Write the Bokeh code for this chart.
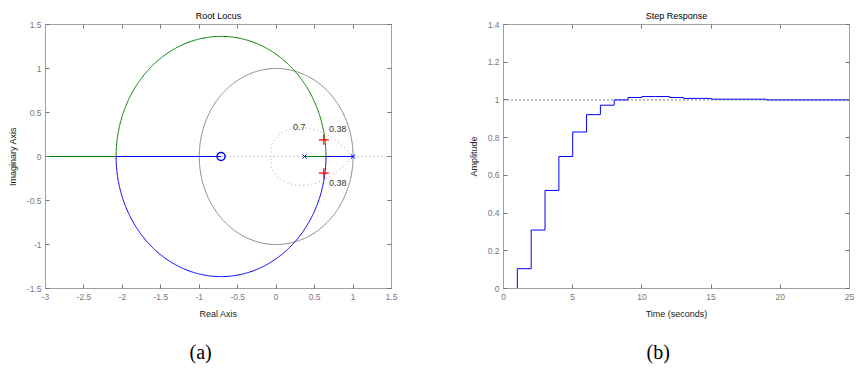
import numpy as np
from bokeh.plotting import figure
from bokeh.layouts import row
from bokeh.models import Range1d, LinearAxis, FixedTicker, Title, Span
from bokeh.core.properties import value
from bokeh.embed import file_html
from bokeh.resources import INLINE

# ---------------- data ----------------
# Root locus (discrete-time system)
ol_poles = [0.368, 1.0]
ol_zeros = [-0.717]
sel_re = [0.62, 0.62]
sel_im = [0.19, -0.19]
sel_labels = ["0.38", "0.38"]
sel_label_x = [0.80, 0.80]
sel_label_y = [0.31, -0.30]
zeta_value = 0.7
zeta_label = ["0.7"]
zeta_label_x = [0.30]
zeta_label_y = [0.335]
rl_xticks = [-3, -2.5, -2, -1.5, -1, -0.5, 0, 0.5, 1, 1.5]
rl_xlabels = ["-3", "-2.5", "-2", "-1.5", "-1", "-0.5", "0", "0.5", "1", "1.5"]
rl_yticks = [-1.5, -1, -0.5, 0, 0.5, 1, 1.5]
rl_ylabels = ["-1.5", "-1", "-0.5", "0", "0.5", "1", "1.5"]

# Step response
step_time = list(range(26))
step_amp = [0.0, 0.105, 0.31, 0.52, 0.70, 0.83, 0.922, 0.972, 1.0, 1.013,
            1.018, 1.018, 1.013, 1.008, 1.008, 1.004, 1.004, 1.004, 1.004, 1.0,
            1.0, 1.0, 1.0, 1.0, 1.0, 1.0]
steady_state = 1.0
st_xticks = [0, 5, 10, 15, 20, 25]
st_xlabels = ["0", "5", "10", "15", "20", "25"]
st_yticks = [0, 0.2, 0.4, 0.6, 0.8, 1, 1.2, 1.4]
st_ylabels = ["0", "0.2", "0.4", "0.6", "0.8", "1", "1.2", "1.4"]

FONT = "Liberation Sans"
TICK_COL = "#777777"
BOX_COL = "#a0a0a0"
LAB_COL = "#222222"


def style_axes(p, xt, xl, yt, yl, xlabel, ylabel):
    p.xaxis.ticker = FixedTicker(ticks=xt)
    p.yaxis.ticker = FixedTicker(ticks=yt)
    p.xaxis.major_label_overrides = {t: s for t, s in zip(xt, xl)}
    p.yaxis.major_label_overrides = {t: s for t, s in zip(yt, yl)}
    p.xaxis.axis_label = xlabel
    p.yaxis.axis_label = ylabel
    top = LinearAxis(ticker=FixedTicker(ticks=xt))
    right = LinearAxis(ticker=FixedTicker(ticks=yt))
    p.add_layout(top, "above")
    p.add_layout(right, "right")
    for ax in p.axis:
        ax.major_tick_in = 4
        ax.major_tick_out = 0
        ax.minor_tick_line_color = None
        ax.major_tick_line_color = TICK_COL
        ax.axis_line_color = BOX_COL
        ax.major_label_text_font = FONT
        ax.major_label_text_font_size = "8.5px"
        ax.major_label_text_color = TICK_COL
        ax.axis_label_text_font = FONT
        ax.axis_label_text_font_size = "9px"
        ax.axis_label_text_font_style = "normal"
        ax.axis_label_text_color = LAB_COL
    for ax in (top, right):
        ax.major_label_text_font_size = "1px"
        ax.major_label_text_color = None
        ax.major_label_standoff = 0
    for ax in p.below:
        ax.major_label_standoff = 5
        ax.axis_label_standoff = 6
    for ax in p.left:
        ax.major_label_standoff = 4
        ax.axis_label_standoff = 6
    p.outline_line_color = BOX_COL
    p.grid.visible = False
    p.title.text_font = FONT
    p.title.text_font_size = "9px"
    p.title.text_font_style = "normal"
    p.title.text_color = "#000000"
    p.title.align = "center"
    p.title.standoff = 8


def caption(p, text, offset):
    p.add_layout(Title(text=text, align="left", offset=offset,
                       text_font="Liberation Serif", text_font_size="20px",
                       text_font_style="normal", text_color="#000000",
                       standoff=35), "below")


# ---------------- root locus ----------------
p1 = figure(title="Root Locus", frame_width=346, frame_height=264,
            min_border_left=45, min_border_right=37, min_border_top=24,
            min_border_bottom=80, x_range=Range1d(-3, 1.5), y_range=Range1d(-1.5, 1.5),
            output_backend="svg", toolbar_location=None)
style_axes(p1, rl_xticks, rl_xlabels, rl_yticks, rl_ylabels, "Real Axis", "Imaginary Axis")

p1.add_layout(Span(location=0, dimension="width", line_color="#9a9a9a",
                   line_dash="1 3", line_width=1, level="underlay"))

# unit circle
ang = np.linspace(0, 2 * np.pi, 400)
p1.line(np.cos(ang), np.sin(ang), line_color="#8a8a8a", line_width=1)

# constant damping curve
th = np.linspace(0, np.pi, 300)
rz = np.exp(-zeta_value * th / np.sqrt(1 - zeta_value ** 2))
p1.line(np.concatenate([rz * np.cos(th), (rz * np.cos(th))[::-1]]),
        np.concatenate([rz * np.sin(th), (-rz * np.sin(th))[::-1]]),
        line_color="#a0a0a0", line_dash="1 3", line_width=1)

# locus geometry from poles and zero
z0 = ol_zeros[0]
pa, pb = ol_poles
rad = np.sqrt((pa - z0) * (pb - z0))
b_out, b_in = z0 + rad, z0 - rad
GREEN = "#008000"
BLUE = "#0000ff"
p1.line(z0 + rad * np.cos(th), rad * np.sin(th), line_color=GREEN, line_width=1)
p1.line(z0 + rad * np.cos(th), -rad * np.sin(th), line_color=BLUE, line_width=1)
p1.line([pa, b_out], [0, 0], line_color=GREEN, line_width=1.2)
p1.line([b_out, pb], [0, 0], line_color=BLUE, line_width=1.2)
p1.line([b_in, p1.x_range.start - 0.5], [0, 0], line_color=GREEN, line_width=1.2)
p1.line([b_in, z0], [0, 0], line_color=BLUE, line_width=1.2)

p1.scatter(ol_poles, [0] * len(ol_poles), marker="x", size=6, line_color=BLUE, line_width=1)
p1.scatter(ol_zeros, [0] * len(ol_zeros), marker="circle", size=8, fill_color=None,
           line_color=BLUE, line_width=1.5)
p1.scatter(sel_re, sel_im, marker="cross", size=10, line_color="#ff0000", line_width=1.2)

p1.text(zeta_label_x, zeta_label_y, text=zeta_label, text_font=value(FONT),
        text_font_size="9px", text_color="#333333", text_align="center",
        text_baseline="middle")
p1.text(sel_label_x, sel_label_y, text=sel_labels, text_font=value(FONT),
        text_font_size="9px", text_color="#333333", text_align="center",
        text_baseline="middle")
caption(p1, "(a)", 144)

# ---------------- step response ----------------
p2 = figure(title="Step Response", frame_width=346, frame_height=264,
            min_border_left=75, min_border_right=7, min_border_top=24,
            min_border_bottom=80, x_range=Range1d(0, 25), y_range=Range1d(0, 1.4),
            output_backend="svg", toolbar_location=None)
style_axes(p2, st_xticks, st_xlabels, st_yticks, st_ylabels, "Time (seconds)", "Amplitude")
p2.add_layout(Span(location=steady_state, dimension="width", line_color="#000000",
                   line_dash="1 3", line_width=1, level="underlay"))
p2.step(step_time, step_amp, mode="after", line_color=BLUE, line_width=1)
caption(p2, "(b)", 143)

layout = row(p1, p2)
open("out.html", "w").write(file_html(layout, INLINE))
